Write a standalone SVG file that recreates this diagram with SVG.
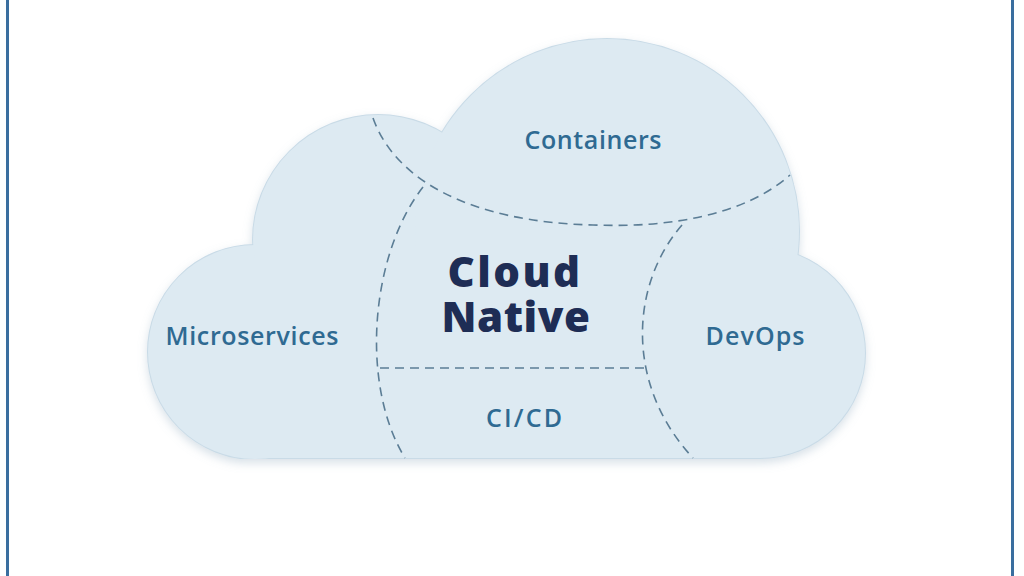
<svg xmlns="http://www.w3.org/2000/svg" width="1024" height="576" viewBox="0 0 1024 576">
  <defs>
    <style>
      .shape { fill: #ddeaf2; }
      .edge { fill: none; stroke: #c9dbe7; stroke-width: 2; }
      .dash { fill: none; stroke: #5b7d95; stroke-width: 1.6; stroke-dasharray: 9 6; }
      .label { font-family: "Open Sans", "Liberation Sans", sans-serif; font-weight: 600; font-size: 25px; fill: #2f6a92; text-anchor: middle; }
      .title { font-family: "Open Sans", "Liberation Sans", sans-serif; font-weight: 800; font-size: 42px; fill: #1e2d55; text-anchor: middle; }
    </style>
    <clipPath id="bottomClip">
      <rect x="0" y="0" width="1024" height="459"/>
    </clipPath>
    <filter id="shadow" x="-10%" y="-10%" width="120%" height="130%">
      <feDropShadow dx="0" dy="4" stdDeviation="5" flood-color="#8fa9bc" flood-opacity="0.35"/>
    </filter>
  </defs>

  <rect x="0" y="0" width="1024" height="576" fill="#ffffff"/>
  <line x1="7.5" y1="0" x2="7.5" y2="576" stroke="#3a6e9f" stroke-width="3"/>
  <line x1="1012.5" y1="0" x2="1012.5" y2="576" stroke="#3a6e9f" stroke-width="3"/>

  <g id="cloud" filter="url(#shadow)">
    <g clip-path="url(#bottomClip)">
      <g class="edge">
        <circle cx="255" cy="352" r="107"/>
        <circle cx="378" cy="240" r="125"/>
        <circle cx="607" cy="231" r="192"/>
        <circle cx="760" cy="353" r="105"/>
        <rect x="255" y="250" width="505" height="208"/>
      </g>
      <g class="shape">
        <circle cx="255" cy="352" r="107"/>
        <circle cx="378" cy="240" r="125"/>
        <circle cx="607" cy="231" r="192"/>
        <circle cx="760" cy="353" r="105"/>
        <rect x="255" y="250" width="505" height="208"/>
      </g>
    </g>
  </g>

  <g id="connectors">
    <path class="dash" d="M373,118 C395,180 470,222 593,225 C670,228 745,215 790,175"/>
    <path class="dash" d="M423,187 C370,255 360,385 405,458"/>
    <path class="dash" d="M682,225 C630,285 625,385 693,458"/>
    <path class="dash" d="M380,368 H648"/>
  </g>

  <g id="node-containers">
    <text class="label" x="593" y="149" textLength="137" lengthAdjust="spacing">Containers</text>
  </g>
  <g id="node-microservices">
    <text class="label" x="252" y="345" textLength="173" lengthAdjust="spacing">Microservices</text>
  </g>
  <g id="node-devops">
    <text class="label" x="755" y="345" textLength="99" lengthAdjust="spacing">DevOps</text>
  </g>
  <g id="node-cicd">
    <text class="label" x="524" y="427" textLength="76" lengthAdjust="spacing">CI/CD</text>
  </g>
  <g id="node-cloud-native">
    <text class="title"><tspan x="515" y="287" letter-spacing="2.5">Cloud</tspan><tspan x="516" y="332" letter-spacing="0.5">Native</tspan></text>
  </g>
</svg>
